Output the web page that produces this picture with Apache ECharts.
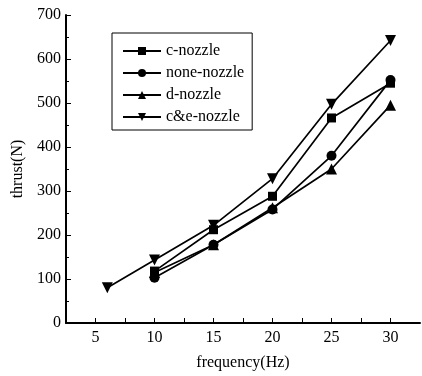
<!DOCTYPE html>
<html>
<head>
<meta charset="utf-8">
<script src="https://cdn.jsdelivr.net/npm/echarts@6/dist/echarts.min.js"></script>
<style>
  html, body { margin: 0; padding: 0; background: #fff; }
  #main { width: 422px; height: 376px; }
</style>
</head>
<body>
<div id="main"></div>
<script>
// 频率 (Hz)
const freqCE = [6, 10, 15, 20, 25, 30]
const freq = [10, 15, 20, 25, 30]

// 推力 (N)
const cNozzle = [118, 212, 288, 466, 545]
const noneNozzle = [103, 178, 258, 380, 552]
const dNozzle = [115, 178, 262, 350, 495]
const ceNozzle = [80, 143, 222, 328, 497, 642]

const seriesNames = ['c-nozzle', 'none-nozzle', 'd-nozzle', 'c&e-nozzle']

const font = '"Liberation Serif", "DejaVu Serif", serif'
const downTriangle = 'path://M0,0 L10,0 L5,9 Z'

const pairs = (xs, ys) => xs.map((x, i) => [x, ys[i]])

// 折线基础配置
const lineSeries = (name, data, symbol, size) => ({
  name,
  type: 'line',
  data,
  symbol,
  symbolSize: size,
  lineStyle: { color: '#000', width: 1.7 },
  itemStyle: { color: '#000' },
  animation: false
})

const chart = echarts.init(document.getElementById('main'), null, { renderer: 'canvas' })

chart.setOption({
  backgroundColor: '#fff',
  textStyle: { fontFamily: font, color: '#000' },
  grid: { left: 66, right: 2, top: 15, bottom: 53 },
  legend: {
    left: 112,
    top: 33,
    orient: 'vertical',
    itemGap: 6,
    itemWidth: 38,
    itemHeight: 10,
    padding: [10, 8, 5, 10],
    borderColor: '#000',
    borderWidth: 1,
    data: seriesNames,
    textStyle: { fontFamily: font, fontSize: 16, color: '#000' }
  },
  xAxis: {
    type: 'value',
    min: 2.5,
    max: 32.5,
    interval: 2.5,
    name: 'frequency(Hz)',
    nameLocation: 'middle',
    nameGap: 32,
    nameTextStyle: { fontFamily: font, fontSize: 16, color: '#000' },
    axisLine: { lineStyle: { color: '#000', width: 2 } },
    axisTick: { inside: true, length: 5, lineStyle: { color: '#000' } },
    axisLabel: {
      fontFamily: font,
      fontSize: 16,
      color: '#000',
      margin: 7,
      showMaxLabel: false,
      formatter: v => (v % 5 === 0 ? String(v) : '')
    },
    splitLine: { show: false }
  },
  yAxis: {
    type: 'value',
    min: 0,
    max: 700,
    interval: 100,
    name: 'thrust(N)',
    nameLocation: 'middle',
    nameGap: 40,
    nameTextStyle: { fontFamily: font, fontSize: 16, color: '#000' },
    axisLine: { show: true, lineStyle: { color: '#000', width: 2 } },
    axisTick: { show: true, inside: true, length: 5, lineStyle: { color: '#000' } },
    minorTick: { show: true, splitNumber: 2, length: 3, lineStyle: { color: '#000' } },
    axisLabel: { fontFamily: font, fontSize: 16, color: '#000', margin: 5 },
    splitLine: { show: false }
  },
  series: [
    lineSeries(seriesNames[0], pairs(freq, cNozzle), 'rect', 9),
    lineSeries(seriesNames[1], pairs(freq, noneNozzle), 'circle', 10),
    lineSeries(seriesNames[2], pairs(freq, dNozzle), 'triangle', 11),
    lineSeries(seriesNames[3], pairs(freqCE, ceNozzle), downTriangle, 11)
  ]
})
</script>
</body>
</html>
